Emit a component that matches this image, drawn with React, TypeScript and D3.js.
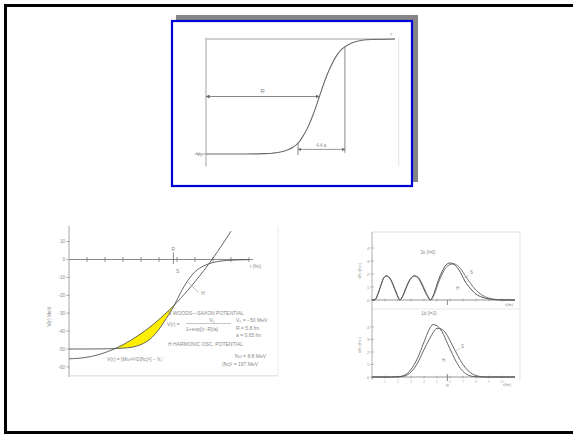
import React from "react";
import * as d3 from "d3";

// ---------- Figure A (inside blue box): Woods-Saxon shape ----------
const SIG_R = [0, 2, 3.0, 3.5, 4.0, 4.3, 4.6, 4.9, 5.1, 5.4, 5.7, 6.0, 6.3, 6.6, 6.9, 7.2, 7.6, 8.0, 8.5, 10];
const SIG_V = [0, 0, 0.003, 0.007, 0.019, 0.035, 0.058, 0.1, 0.147, 0.236, 0.356, 0.5, 0.644, 0.76, 0.853, 0.914, 0.957, 0.98, 0.993, 1];

// ---------- Figure B (lower left): potentials ----------
const WS_R = [0, 1, 2, 2.5, 3, 3.5, 4, 4.5, 5, 5.4, 5.8, 6.2, 6.6, 7, 7.5, 8, 8.5, 9, 10];
const WS_V = [-50, -50, -49.9, -49.8, -49.5, -49, -47.5, -44.5, -39, -33, -26.5, -18.5, -11.8, -6.8, -3.5, -1.7, -0.8, -0.4, -0.1];
const HO_R = [0, 1, 2, 2.5, 3, 3.5, 4, 4.5, 5, 5.4, 5.8, 6.2, 6.6, 7, 7.5, 8, 8.5, 9];
const HO_V = [-55.5, -54.6, -52, -50, -47.6, -44.7, -41.4, -37.7, -33.5, -29.8, -26, -21.7, -17.2, -12.4, -6, 0.8, 8.1, 15.8];
const B_YTICKS = [10, 0, -10, -20, -30, -40, -50, -60];
const B_XTICKS = [1, 2, 3, 4, 5, 6, 7, 8, 9, 10];
const R_NUC = 5.8;

// ---------- Figure C (lower right): radial densities ----------
const C1_R = [0, 0.2, 0.45, 0.7, 0.9, 1.1, 1.35, 1.6, 1.9, 2.15, 2.4, 2.7, 3.0, 3.25, 3.55, 3.85, 4.2, 4.5, 4.8, 5.1, 5.4, 5.7, 6.0, 6.3, 6.7, 7.15, 7.6, 8.0, 8.46, 9.0, 9.46, 10, 11];
const C1_S = [0, 0, 0.45, 1.2, 1.7, 1.85, 1.7, 1.2, 0.45, 0, 0.4, 1.15, 1.7, 1.85, 1.7, 1.15, 0.4, 0, 0.6, 1.5, 2.2, 2.7, 2.85, 2.75, 2.3, 1.45, 0.85, 0.45, 0.22, 0.08, 0.03, 0, 0];
const C1_H = [0, 0, 0.42, 1.15, 1.68, 1.85, 1.72, 1.25, 0.5, 0.02, 0.35, 1.1, 1.65, 1.85, 1.75, 1.25, 0.5, 0.03, 0.45, 1.3, 2.0, 2.5, 2.72, 2.78, 2.55, 1.9, 1.25, 0.75, 0.38, 0.14, 0.05, 0.01, 0];
const C2_R = [0, 1.5, 2.0, 2.5, 3.0, 3.5, 4.0, 4.4, 4.7, 5.0, 5.4, 5.8, 6.2, 6.6, 7.0, 7.4, 7.8, 8.2, 8.6, 9, 11];
const C2_S = [0, 0, 0.02, 0.15, 0.6, 1.5, 2.8, 3.8, 4.2, 4.1, 3.6, 2.7, 1.8, 1.0, 0.45, 0.15, 0.04, 0.01, 0, 0, 0];
const C2_H = [0, 0, 0.01, 0.08, 0.4, 1.1, 2.2, 3.0, 3.55, 3.9, 3.8, 3.3, 2.5, 1.7, 1.0, 0.5, 0.2, 0.06, 0.01, 0, 0];
const C_YTICKS = [0, 1, 2, 3, 4];
const C_XTICKS = [1, 2, 3, 4, 5, 6, 7, 8, 9, 10];

const INK = "#6a6a6a";
const FAINT = "#9a9a9a";
const TXT = "#8a8a8a";
const FONT = "Liberation Sans, Arial, sans-serif";

function lineOf(xs: number[], ys: number[], x: any, y: any) {
  const pts = xs.map((r, i) => [r, ys[i]] as [number, number]);
  return d3.line<[number, number]>().x(d => x(d[0])).y(d => y(d[1])).curve(d3.curveMonotoneX)(pts) || "";
}

export default function App() {
  const xA = d3.scaleLinear([0, 10], [206, 395]);
  const yA = d3.scaleLinear([0, 1], [154, 39]);
  const xB = d3.scaleLinear([0, 10], [69, 249]);
  const yB = d3.scaleLinear([0, -50], [259.5, 349]);
  const xC = d3.scaleLinear([0, 11], [372, 515]);
  const yCT = d3.scaleLinear([0, 4], [300, 248]);
  const yCB = d3.scaleLinear([0, 4], [377, 327]);

  const areaPts = WS_R.map((r, i) => ({ r, ws: WS_V[i], ho: HO_V[i] })).filter(d => d.r >= 2.5 && d.r <= 5.8 && d.ho !== undefined);
  const yellow = d3.area<any>().x(d => xB(d.r)).y0(d => yB(d.ws)).y1(d => yB(d.ho)).curve(d3.curveMonotoneX)(areaPts) || "";

  return (
    <svg width={573} height={434} style={{ position: "absolute", left: 0, top: 0, background: "#fff" }} fontFamily={FONT}>
      <defs>
        <marker id="ah" viewBox="0 0 6 6" refX="5.5" refY="3" markerWidth="5" markerHeight="5" orient="auto-start-reverse">
          <path d="M0,0 L6,3 L0,6 z" fill={INK} />
        </marker>
      </defs>
      <rect x={0} y={0} width={573} height={434} fill="#fff" />
      <line x1={5.5} y1={5.5} x2={573} y2={5.5} stroke="#000" strokeWidth={3} />
      <line x1={5.5} y1={4} x2={5.5} y2={434} stroke="#000" strokeWidth={3} />
      <line x1={4} y1={432.5} x2={573} y2={432.5} stroke="#000" strokeWidth={3} />

      <rect x={176} y={15} width={242} height={167} fill="#858585" />
      <rect x={172} y={21} width={240} height={165} fill="#fff" stroke="#0000d8" strokeWidth={2.2} />
      <g stroke={INK} fill="none" strokeWidth={0.9}>
        <line x1={xA(0)} y1={yA(1.01)} x2={xA(0)} y2={yA(-0.11)} stroke={FAINT} />
        <line x1={xA(0)} y1={yA(1)} x2={xA(10)} y2={yA(1)} stroke={FAINT} />
        <line x1={xA(10.2)} y1={yA(1.02)} x2={xA(10.2)} y2={yA(-0.11)} stroke="#e2e2e2" />
        <path d={lineOf(SIG_R, SIG_V, xA, yA)} strokeWidth={1.1} />
        <line x1={xA(-0.6)} y1={yA(0)} x2={xA(0)} y2={yA(0)} stroke={FAINT} />
        <line x1={xA(0)} y1={yA(0.5)} x2={xA(6.0)} y2={yA(0.5)} markerStart="url(#ah)" markerEnd="url(#ah)" strokeWidth={0.8} />
        <line x1={xA(7.35)} y1={yA(0.93)} x2={xA(7.35)} y2={yA(0.01)} strokeWidth={0.8} />
        <line x1={xA(4.87)} y1={yA(0.1)} x2={xA(4.87)} y2={yA(-0.01)} strokeWidth={0.8} />
        <line x1={xA(4.87)} y1={yA(0.04)} x2={xA(7.35)} y2={yA(0.04)} markerStart="url(#ah)" markerEnd="url(#ah)" strokeWidth={0.7} />
      </g>
      <g fill={TXT} fontSize={6}>
        <text x={xA(3.0)} y={yA(0.53)} textAnchor="middle">R</text>
        <text x={xA(-0.35)} y={yA(-0.02)} textAnchor="middle" fontSize={5.5}>V₀</text>
        <text x={xA(6.1)} y={yA(0.06)} textAnchor="middle" fontSize={4.6}>4.4 a</text>
        <text x={xA(9.8)} y={yA(1.03)} textAnchor="middle" fontSize={4.6}>r</text>
      </g>

      <g>
        <line x1={xB(0)} y1={226} x2={xB(0)} y2={377} stroke={FAINT} strokeWidth={0.9} />
        <line x1={xB(0)} y1={yB(0)} x2={253} y2={yB(0)} stroke={INK} strokeWidth={0.8} />
        <line x1={xB(0)} y1={yB(-65)} x2={278} y2={yB(-65)} stroke="#cfcfcf" strokeWidth={0.8} />
        <line x1={278} y1={226} x2={278} y2={yB(-65)} stroke="#e4e4e4" strokeWidth={0.8} />
        {B_YTICKS.map(v => (
          <g key={v}>
            <line x1={xB(0) - 3} y1={yB(v)} x2={xB(0) + 1} y2={yB(v)} stroke={FAINT} strokeWidth={0.7} />
            <text x={xB(0) - 4} y={yB(v) + 1.8} fontSize={4.6} textAnchor="end" fill={TXT}>{v}</text>
          </g>
        ))}
        {B_XTICKS.map(r => (
          <line key={r} x1={xB(r)} y1={yB(0) - 2.5} x2={xB(r)} y2={yB(0) + 2.5} stroke={INK} strokeWidth={0.7} />
        ))}
        <line x1={xB(R_NUC)} y1={yB(4)} x2={xB(R_NUC)} y2={yB(-2.5)} stroke={INK} strokeWidth={0.8} />
        <text x={xB(R_NUC)} y={yB(4.5)} fontSize={5} fill={TXT} textAnchor="middle">R</text>
        <text x={250} y={yB(-5)} fontSize={4.6} fill={TXT}>r (fm)</text>
        <text transform={`translate(51,${yB(-32)}) rotate(-90)`} fontSize={5} fill={TXT} textAnchor="middle">V(r) MeV</text>
        <path d={yellow} fill="#ffee00" stroke="none" />
        <path d={lineOf(WS_R, WS_V, xB, yB)} fill="none" stroke="#555" strokeWidth={0.9} />
        <path d={lineOf(HO_R, HO_V, xB, yB)} fill="none" stroke="#555" strokeWidth={0.9} />
        <text x={xB(5.95)} y={yB(-7.5)} fontSize={5} fill={TXT}>S</text>
        <line x1={xB(6.6)} y1={yB(-12.5)} x2={xB(7.2)} y2={yB(-18.5)} stroke={FAINT} strokeWidth={0.6} />
        <text x={xB(7.35)} y={yB(-20)} fontSize={5} fill={TXT}>H</text>
        <g fontSize={5} fill={TXT}>
          <text x={168} y={315}>S  WOODS—SAXON POTENTIAL</text>
          <text x={167} y={326}>V(r) =</text>
          <text x={212} y={321.5} textAnchor="middle">V₀</text>
          <line x1={186} y1={323.5} x2={231} y2={323.5} stroke={TXT} strokeWidth={0.5} />
          <text x={186} y={331}>1+exp[(r−R)/a]</text>
          <text x={236} y={322}>V₀ = −50 MeV</text>
          <text x={236} y={329.5}>R = 5.8 fm</text>
          <text x={236} y={337}>a = 0.65 fm</text>
          <text x={168} y={346}>H  HARMONIC OSC. POTENTIAL</text>
          <text x={107} y={361}>V(r) = [Mω²r²/2(ħc)²] − V₀′</text>
          <text x={235} y={358}>ħω = 8.8 MeV</text>
          <text x={222} y={366}>(ħc)² = 197 MeV</text>
        </g>
      </g>

      <g>
        <line x1={372} y1={232} x2={520} y2={232} stroke="#d8d8d8" strokeWidth={0.8} />
        <line x1={520} y1={232} x2={520} y2={380} stroke="#dcdcdc" strokeWidth={0.8} />
        <line x1={372} y1={309} x2={520} y2={309} stroke="#e2e2e2" strokeWidth={0.8} />
        <line x1={372} y1={232} x2={372} y2={380} stroke={FAINT} strokeWidth={0.8} />
        <line x1={372} y1={yCT(0)} x2={515} y2={yCT(0)} stroke={INK} strokeWidth={0.7} />
        <line x1={372} y1={yCB(0)} x2={515} y2={yCB(0)} stroke={INK} strokeWidth={0.7} />
        {C_YTICKS.map(v => (
          <g key={v}>
            <line x1={370} y1={yCT(v)} x2={374} y2={yCT(v)} stroke={FAINT} strokeWidth={0.6} />
            <line x1={370} y1={yCB(v)} x2={374} y2={yCB(v)} stroke={FAINT} strokeWidth={0.6} />
            <text x={369} y={yCT(v) + 1.5} fontSize={3.8} fill={TXT} textAnchor="end">{v}</text>
            <text x={369} y={yCB(v) + 1.5} fontSize={3.8} fill={TXT} textAnchor="end">{v}</text>
          </g>
        ))}
        {C_XTICKS.map(r => (
          <g key={r}>
            <line x1={xC(r)} y1={yCT(0) - 1.5} x2={xC(r)} y2={yCT(0) + 1.5} stroke={FAINT} strokeWidth={0.6} />
            <line x1={xC(r)} y1={yCB(0) - 1.5} x2={xC(r)} y2={yCB(0) + 1.5} stroke={FAINT} strokeWidth={0.6} />
            <text x={xC(r)} y={yCB(0) + 6} fontSize={3.6} fill="#b5b5b5" textAnchor="middle">{r}</text>
          </g>
        ))}
        <line x1={xC(R_NUC)} y1={yCT(0)} x2={xC(R_NUC)} y2={yCT(0) + 5} stroke={INK} strokeWidth={0.8} />
        <line x1={xC(R_NUC)} y1={yCB(0) - 3} x2={xC(R_NUC)} y2={yCB(0) + 4} stroke={INK} strokeWidth={0.8} />
        <text x={xC(R_NUC)} y={yCB(0) + 10} fontSize={4} fill={TXT} textAnchor="middle">R</text>
        <text x={505} y={306} fontSize={3.8} fill={TXT}>r(fm)</text>
        <text x={503} y={386} fontSize={3.8} fill={TXT}>r(fm)</text>
        <text transform="translate(361,271) rotate(-90)" fontSize={3.8} fill={TXT} textAnchor="middle">r²R² (fm⁻¹)</text>
        <text transform="translate(361,345) rotate(-90)" fontSize={3.8} fill={TXT} textAnchor="middle">r²R² (fm⁻¹)</text>
        <text x={428} y={254} fontSize={4.5} fill={TXT} textAnchor="middle">3s (l=0)</text>
        <text x={429} y={315} fontSize={4.5} fill={TXT} textAnchor="middle">1d (l=2)</text>
        <path d={lineOf(C1_R, C1_S, xC, yCT)} fill="none" stroke="#555" strokeWidth={1} />
        <path d={lineOf(C1_R, C1_H, xC, yCT)} fill="none" stroke="#555" strokeWidth={0.8} />
        <path d={lineOf(C2_R, C2_S, xC, yCB)} fill="none" stroke="#555" strokeWidth={0.9} />
        <path d={lineOf(C2_R, C2_H, xC, yCB)} fill="none" stroke="#555" strokeWidth={0.9} />
        <text x={470} y={274} fontSize={4.5} fill={TXT}>S</text>
        <line x1={463} y1={279} x2={469} y2={275} stroke={FAINT} strokeWidth={0.5} />
        <text x={456} y={290} fontSize={4.5} fill={TXT}>H</text>
        <text x={461} y={348} fontSize={4.5} fill={TXT}>S</text>
        <line x1={455} y1={352} x2={460} y2={348} stroke={FAINT} strokeWidth={0.5} />
        <text x={442} y={362} fontSize={4.5} fill={TXT}>H</text>
      </g>
    </svg>
  );
}
